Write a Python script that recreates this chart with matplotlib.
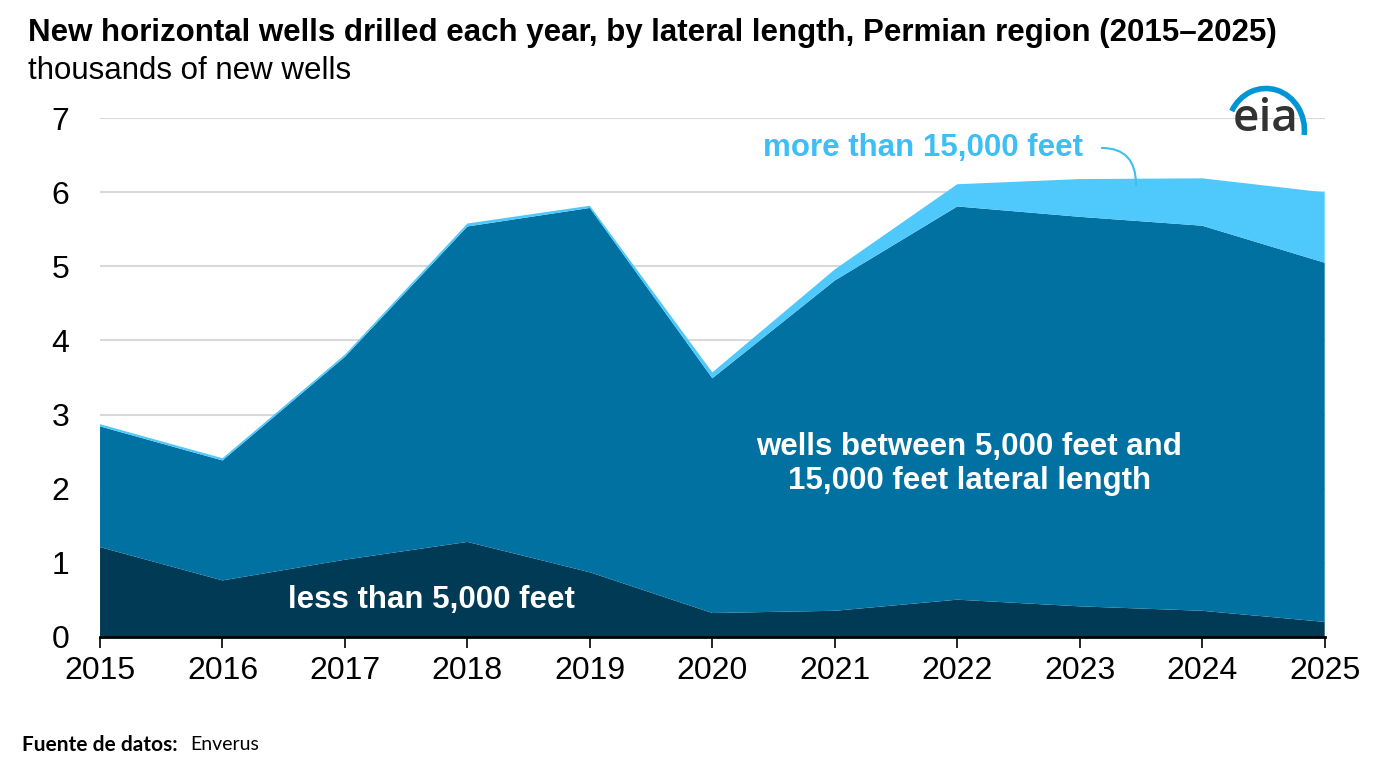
import matplotlib
matplotlib.use("Agg")
import matplotlib.pyplot as plt
from matplotlib.patches import Arc

plt.rcParams['font.family'] = ['Liberation Sans', 'DejaVu Sans']

# years on the x axis
years = [2015, 2016, 2017, 2018, 2019, 2020, 2021, 2022, 2023, 2024, 2025]

# thousands of new wells, by lateral length
less_5000 = [1.21, 0.76, 1.04, 1.28, 0.87, 0.32, 0.35, 0.50, 0.41, 0.35, 0.20]
between = [1.63, 1.62, 2.74, 4.26, 4.92, 3.17, 4.46, 5.31, 5.26, 5.20, 4.85]
more_15000 = [0.03, 0.03, 0.03, 0.04, 0.03, 0.08, 0.15, 0.30, 0.51, 0.64, 0.95]

y_ticks = [0, 1, 2, 3, 4, 5, 6, 7]

dark = '#003a55'
mid = '#0071a1'
light = '#4fc8fb'

fig = plt.figure(figsize=(13.76, 7.76), dpi=100)
ax = fig.add_axes([0.0727, 0.1795, 0.890, 0.668])

ax.stackplot(years, less_5000, between, more_15000,
             colors=[dark, mid, light], linewidth=0)

ax.set_xlim(years[0], years[-1])
ax.set_ylim(0, 7)
ax.set_xticks(years)
ax.set_yticks(y_ticks)
ax.tick_params(axis='x', labelsize=23, length=8, width=1.2, pad=6, color='black')
ax.tick_params(axis='y', labelsize=23, length=0, pad=22)
ax.grid(axis='y', color='#d9d9d9', linewidth=1.5)
ax.set_axisbelow(True)
for side in ['top', 'right', 'left']:
    ax.spines[side].set_visible(False)
ax.spines['bottom'].set_linewidth(2)
ax.spines['bottom'].set_zorder(5)

# labels inside the areas
ax.text(2017.71, 0.50, 'less than 5,000 feet', color='white', fontsize=22.5,
        fontweight='bold', ha='center', va='center')
ax.text(2022.1, 2.33, 'wells between 5,000 feet and\n15,000 feet lateral length',
        color='white', fontsize=22.5, fontweight='bold', ha='center', va='center',
        linespacing=1.2)
ax.text(2023.03, 6.6, 'more than 15,000 feet', color='#3dbff5', fontsize=22.5,
        fontweight='bold', ha='right', va='center')
ax.annotate('', xy=(2023.46, 6.1), xytext=(2023.18, 6.6),
            arrowprops=dict(arrowstyle='-', color='#3dbff5', lw=1.5,
                            connectionstyle='angle3,angleA=0,angleB=90',
                            shrinkA=0, shrinkB=0))

# title block
fig.text(0.0203, 0.957, 'New horizontal wells drilled each year, by lateral length, '
         'Permian region (2015\u20132025)', fontsize=22.5, fontweight='bold', va='center')
fig.text(0.0203, 0.909, 'thousands of new wells', fontsize=22.5, va='center')

# source note
src = fig.text(0.016, 0.040, 'Fuente de datos:', fontsize=15, fontweight='bold',
               family='Lato', va='center')
fig.canvas.draw()
bb = src.get_window_extent().transformed(fig.transFigure.inverted())
fig.text(bb.x1 + 0.009, 0.040, 'Enverus', fontsize=14, family='Lato', va='center')

# eia logo
fig.text(0.9195, 0.846, 'eia', fontsize=33, color='#333333', ha='center',
         va='center', family='Open Sans', fontweight='semibold')
arc = Arc((0.920, 0.832), 0.056, 0.108, theta1=-12, theta2=135, color='#0096d6',
          lw=4, transform=fig.transFigure)
fig.add_artist(arc)

fig.savefig('out.png', dpi=100)
